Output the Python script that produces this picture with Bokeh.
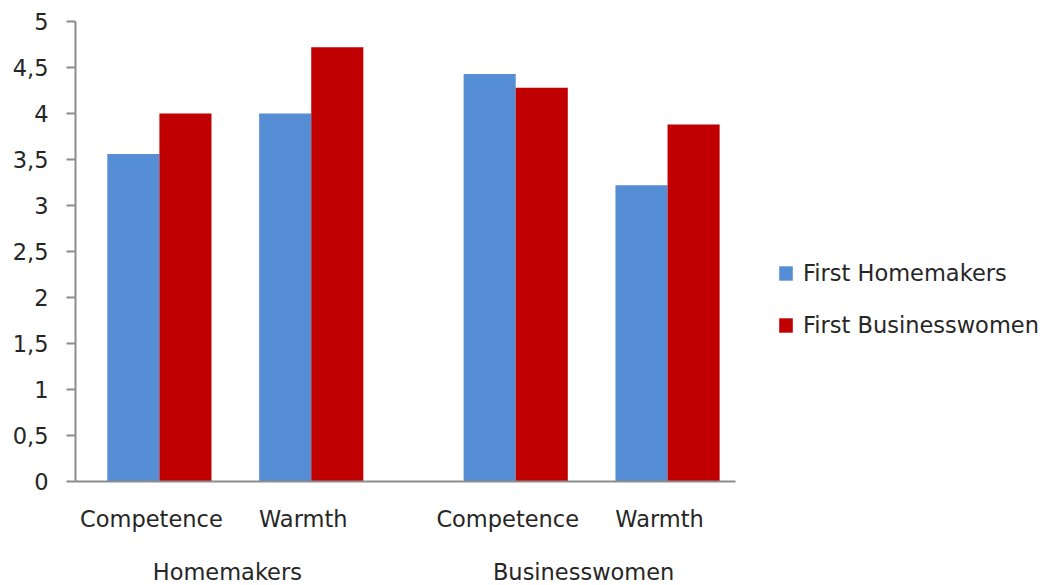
from bokeh.plotting import figure
from bokeh.models import FactorRange, FixedTicker, Legend, LegendItem, ColumnDataSource, Range1d
from bokeh.transform import dodge
from bokeh.embed import file_html
from bokeh.resources import INLINE

# ---- data ----
groups = ["Homemakers", "Businesswomen"]
traits = ["Competence", "Warmth"]
series_names = ["First Homemakers", "First Businesswomen"]
first_homemakers = [3.56, 4.00, 4.43, 3.22]
first_businesswomen = [4.00, 4.72, 4.28, 3.88]
y_ticks = [0, 0.5, 1, 1.5, 2, 2.5, 3, 3.5, 4, 4.5, 5]
y_tick_labels = ["0", "0,5", "1", "1,5", "2", "2,5", "3", "3,5", "4", "4,5", "5"]

factors = [(g, t) for g in groups for t in traits]
src = ColumnDataSource(dict(x=factors, hm=first_homemakers, bw=first_businesswomen))

FONT = "DejaVu Sans"
FS = "22.5px"
TXT = "#262626"
AX = "#8c8c8c"

x_range = FactorRange(*factors, factor_padding=0.0, group_padding=0.3465,
                      range_padding=0.0, range_padding_units="absolute")
p = figure(frame_width=660, frame_height=460, x_range=x_range, y_range=Range1d(0, 5),
           output_backend="svg", toolbar_location=None)
p.min_border_left = 75
p.min_border_right = 315
p.min_border_top = 21
p.min_border_bottom = 104
p.outline_line_color = None
p.xgrid.grid_line_color = None
p.ygrid.grid_line_color = None

r1 = p.vbar(x=dodge("x", -0.119, range=p.x_range), top="hm", width=0.343,
            source=src, fill_color="#558ED5", line_color=None)
r2 = p.vbar(x=dodge("x", 0.224, range=p.x_range), top="bw", width=0.343,
            source=src, fill_color="#C00000", line_color=None)

# y axis
ya = p.yaxis[0]
ya.ticker = FixedTicker(ticks=y_ticks)
ya.major_label_overrides = {t: l for t, l in zip(y_ticks, y_tick_labels)}
ya.minor_tick_line_color = None
ya.major_tick_out = 9
ya.major_tick_in = 0
ya.major_tick_line_color = AX
ya.major_tick_line_width = 2
ya.axis_line_color = AX
ya.axis_line_width = 2
ya.major_label_standoff = 18
ya.major_label_text_font = FONT
ya.major_label_text_font_size = FS
ya.major_label_text_color = TXT

# x axis
xa = p.xaxis[0]
xa.axis_line_color = AX
xa.axis_line_width = 2
xa.major_tick_line_color = None
xa.major_tick_out = 0
xa.major_tick_in = 0
xa.minor_tick_line_color = None
xa.separator_line_color = None
xa.major_label_standoff = 24
xa.major_label_text_font = FONT
xa.major_label_text_font_size = FS
xa.major_label_text_color = TXT
xa.major_label_text_line_height = 1.45
xa.group_text_font = FONT
xa.group_text_font_size = FS
xa.group_text_font_style = "normal"
xa.group_text_color = TXT
xa.group_label_orientation = "horizontal"

legend = Legend(items=[LegendItem(label=series_names[0], renderers=[r1]),
                       LegendItem(label=series_names[1], renderers=[r2])],
                location=(42, 143), padding=0, margin=0,
                glyph_width=17, glyph_height=18, label_height=18,
                label_standoff=9, spacing=26,
                label_text_font=FONT, label_text_font_size=FS,
                label_text_color=TXT,
                border_line_color=None, background_fill_alpha=0)
p.add_layout(legend, "right")

open("out.html", "w").write(file_html(p, INLINE))
